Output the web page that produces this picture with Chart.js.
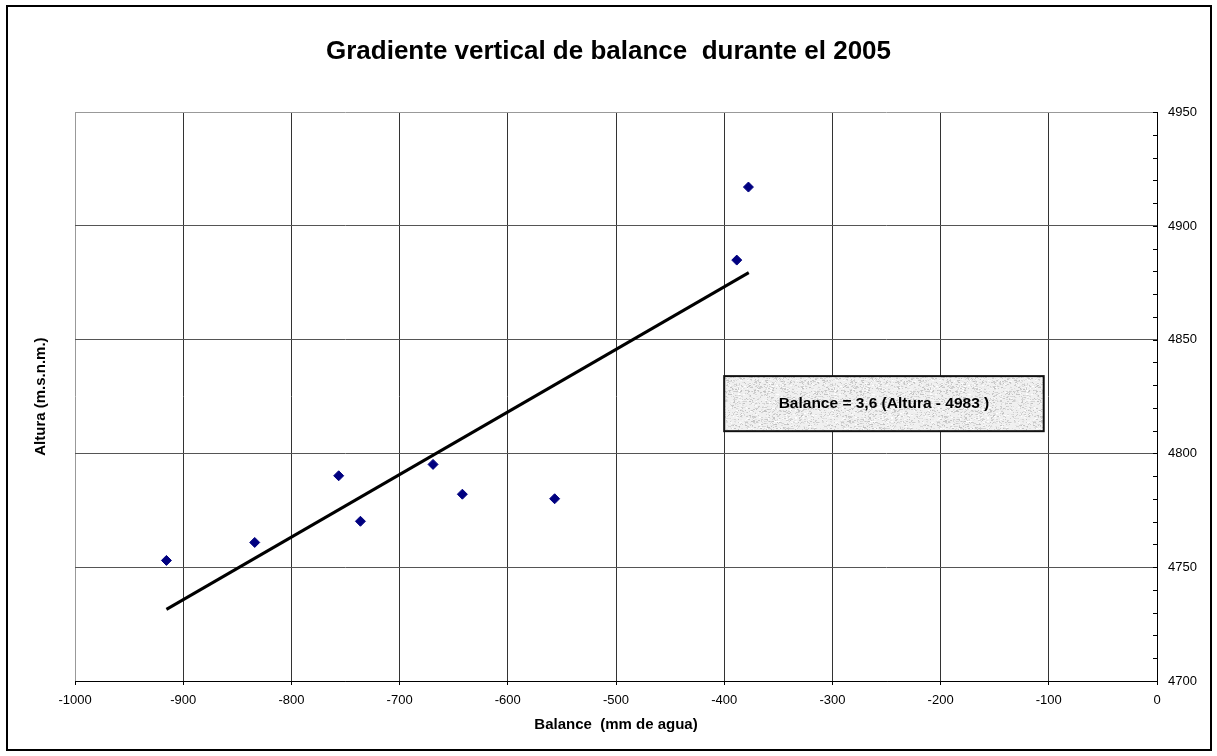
<!DOCTYPE html>
<html>
<head>
<meta charset="utf-8">
<script src="https://cdn.jsdelivr.net/npm/chart.js@4/dist/chart.umd.min.js"></script>
<style>
  html, body { margin: 0; padding: 0; background: #fff; }
  #wrap { width: 1217px; height: 756px; position: relative; }
</style>
</head>
<body>
<div id="wrap"><canvas id="gradiente-chart"></canvas></div>
<script>
// mediciones 2005: balance (mm de agua) vs altura (m.s.n.m.)
var balance = [-915.5, -833.9, -756.3, -736.2, -669.1, -642.0, -556.7, -388.4, -377.6];
var altura = [4753.0, 4760.9, 4790.2, 4770.2, 4795.2, 4782.1, 4780.1, 4885.0, 4917.1];

// recta de ajuste (extremos)
var trendBalance = [-915.5, -377.3];
var trendAltura = [4731.5, 4879.5];

var xTicks = [-1000, -900, -800, -700, -600, -500, -400, -300, -200, -100, 0];
var yTicks = [4700, 4750, 4800, 4850, 4900, 4950];

var ecuacion = 'Balance = 3,6 (Altura - 4983 )';
// caja de la ecuación en unidades del gráfico
var boxBalance = [-400, -104.7];
var boxAltura = [4834, 4809.8];

var FONT = "'Liberation Sans', Arial, sans-serif";

var points = balance.map(function(b, i){ return {x: b, y: altura[i]}; });
var trend = trendBalance.map(function(b, i){ return {x: b, y: trendAltura[i]}; });

// textura gris tipo granito para la caja
function makeTexture(ctx){
	var c = document.createElement('canvas');
	c.width = 96; c.height = 96;
	var g = c.getContext('2d');
	g.fillStyle = '#f0f0f0';
	g.fillRect(0, 0, 96, 96);
	var seed = 98765;
	function rnd(n){
		seed = (seed * 1103515245 + 12345) % 2147483648;
		return Math.floor(seed / 65536) % n;
	}
	for (var i = 0; i < 3600; i++){
		var px = rnd(96), py = rnd(96);
		var v = 192 + rnd(64);
		g.fillStyle = 'rgb(' + v + ',' + v + ',' + v + ')';
		g.fillRect(px, py, 1 + rnd(2), 1);
	}
	return ctx.createPattern(c, 'repeat');
}

var extras = {
	id: 'extras',
	afterDatasetsDraw: function(chart){
		var ctx = chart.ctx;
		var xs = chart.scales.x, ys = chart.scales.y;
		var area = chart.chartArea;
		ctx.save();

		// ticks menores del eje derecho, hacia dentro
		ctx.strokeStyle = '#000';
		ctx.lineWidth = 1;
		for (var v = yTicks[0]; v <= yTicks[yTicks.length - 1]; v += 10){
			var py = Math.round(ys.getPixelForValue(v)) + 0.5;
			ctx.beginPath();
			ctx.moveTo(area.right - 4, py);
			ctx.lineTo(area.right, py);
			ctx.stroke();
		}

		// caja con la ecuación
		var x0 = xs.getPixelForValue(boxBalance[0]);
		var x1 = xs.getPixelForValue(boxBalance[1]);
		var y0 = ys.getPixelForValue(boxAltura[0]);
		var y1 = ys.getPixelForValue(boxAltura[1]);
		ctx.fillStyle = makeTexture(ctx);
		ctx.fillRect(x0, y0, x1 - x0, y1 - y0);
		ctx.lineWidth = 2;
		ctx.strokeStyle = '#111';
		ctx.strokeRect(x0, y0, x1 - x0, y1 - y0);
		ctx.fillStyle = '#000';
		ctx.font = 'bold 15.5px ' + FONT;
		ctx.textAlign = 'center';
		ctx.textBaseline = 'middle';
		ctx.fillText(ecuacion, (x0 + x1) / 2, (y0 + y1) / 2);

		// marco exterior
		ctx.lineWidth = 2;
		ctx.strokeStyle = '#000';
		ctx.strokeRect(7, 6, 1204, 744);
		ctx.restore();
	}
};

function plain(v){ return String(v); }

var ctx = document.getElementById('gradiente-chart');
var gradienteChart = new Chart(ctx, {
	type: 'scatter',
	data: {
		datasets: [{
			label: 'Balance',
			data: points,
			pointStyle: 'rectRot',
			pointRadius: 5,
			pointBorderWidth: 1,
			backgroundColor: '#000080',
			borderColor: '#000080'
		}, {
			label: 'Ajuste',
			type: 'line',
			data: trend,
			showLine: true,
			borderColor: '#000',
			borderWidth: 3,
			pointRadius: 0,
			fill: false
		}]
	},
	options: {
		responsive: true,
		maintainAspectRatio: false,
		animation: false,
		layout: { padding: 0 },
		plugins: {
			legend: { display: false },
			tooltip: { enabled: false },
			title: {
				display: true,
				text: 'Gradiente vertical de balance  durante el 2005',
				color: '#000',
				font: { family: FONT, size: 26, weight: 'bold', lineHeight: 1.2 },
				padding: { top: 36, bottom: 45 }
			}
		},
		scales: {
			x: {
				type: 'linear',
				position: 'bottom',
				min: xTicks[0],
				max: xTicks[xTicks.length - 1],
				afterBuildTicks: function(scale){
					scale.ticks = xTicks.map(function(v){ return {value: v}; });
				},
				afterFit: function(scale){ scale.height = 75; },
				grid: {
					color: function(c){
						return c.tick && c.tick.value === xTicks[0] ? '#999' : '#333';
					},
					tickColor: '#000',
					tickLength: 4,
					lineWidth: 1
				},
				border: { color: '#000', width: 1 },
				ticks: {
					color: '#000',
					padding: 8,
					maxRotation: 0,
					callback: plain,
					font: { family: FONT, size: 13 }
				},
				title: {
					display: true,
					text: 'Balance  (mm de agua)',
					color: '#000',
					font: { family: FONT, size: 15, weight: 'bold', lineHeight: 1.2 },
					padding: { top: 0, bottom: 22.5 }
				}
			},
			y: {
				type: 'linear',
				position: 'right',
				min: yTicks[0],
				max: yTicks[yTicks.length - 1],
				afterBuildTicks: function(scale){
					scale.ticks = yTicks.map(function(v){ return {value: v}; });
				},
				afterFit: function(scale){ scale.width = 60; },
				grid: {
					color: function(c){
						return c.tick && c.tick.value === yTicks[yTicks.length - 1] ? '#999' : '#555';
					},
					drawTicks: false,
					lineWidth: 1
				},
				border: { color: '#000', width: 1 },
				ticks: {
					color: '#000',
					padding: 11,
					callback: plain,
					font: { family: FONT, size: 13 }
				}
			},
			yl: {
				type: 'linear',
				position: 'left',
				min: 0,
				max: 1,
				afterFit: function(scale){ scale.width = 75; },
				grid: { display: false },
				border: { display: false },
				ticks: { display: false },
				title: {
					display: true,
					text: 'Altura (m.s.n.m.)',
					color: '#000',
					font: { family: FONT, size: 15, weight: 'bold', lineHeight: 1.2 },
					padding: { top: 32, bottom: 0 }
				}
			}
		}
	},
	plugins: [extras]
});
</script>
</body>
</html>
